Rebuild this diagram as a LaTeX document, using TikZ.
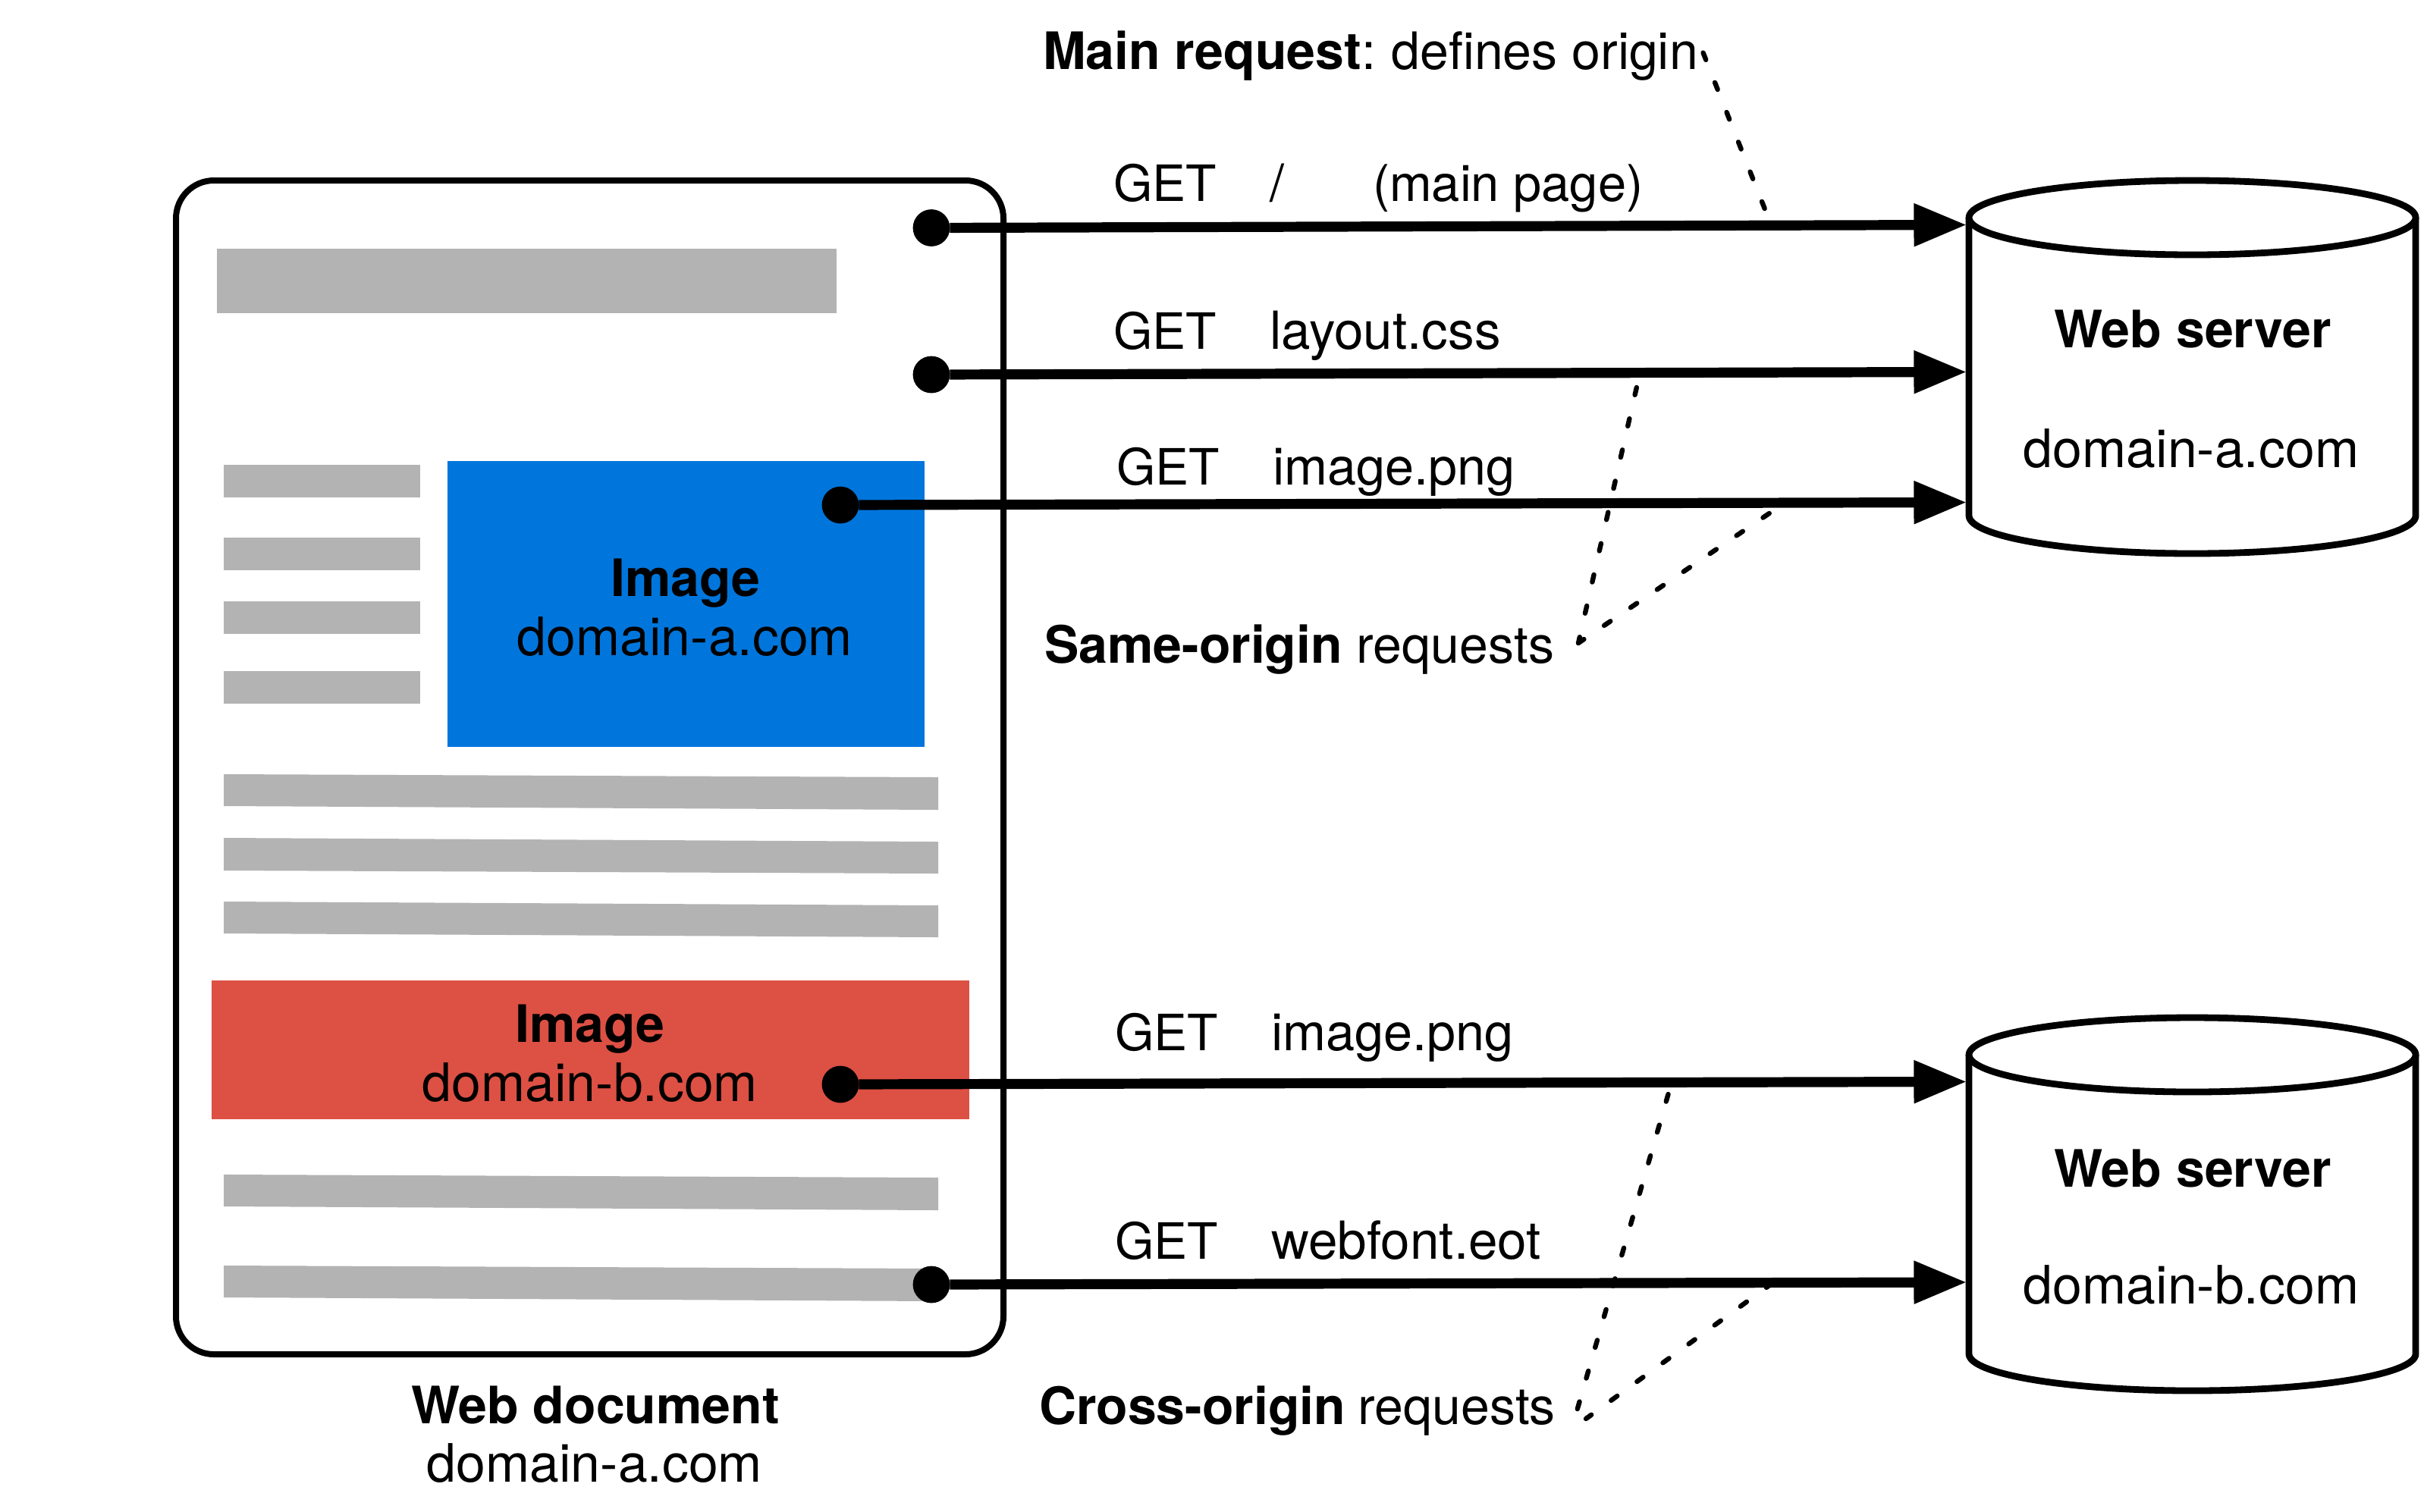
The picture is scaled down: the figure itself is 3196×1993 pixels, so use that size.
\documentclass[tikz,border=0pt]{standalone}
\usepackage{fontspec}
\setmainfont{TeX Gyre Heros}
\usetikzlibrary{arrows.meta}
\definecolor{barfill}{RGB}{179,179,179}
\definecolor{imgblue}{RGB}{0,118,220}
\definecolor{imgred}{RGB}{221,80,68}
\tikzset{
  lbl/.style={inner sep=0pt,outer sep=0pt,font=\fontsize{17}{20}\selectfont,text=black},
  lw/.style={lbl,anchor=base west},
  lc/.style={lbl,anchor=base},
  dom/.style={lc,font=\fontsize{17.45}{20}\selectfont},
  getlbl/.style={lw,font=\fontsize{16.5}{20}\selectfont},
  frameline/.style={draw=black,line width=2pt,rounded corners=12.5pt},
  bar/.style={fill=barfill},
  srv/.style={draw=black,line width=2.2pt,fill=white},
  dotnode/.style={circle,fill=black,inner sep=0pt,outer sep=0pt,minimum size=12.2pt},
  req/.style={line width=3.3pt,-{Triangle[length=17.4pt,width=13.4pt]}},
  note/.style={line width=1.6pt,line cap=round,dash pattern=on 2.5pt off 8.05pt},
}
\begin{document}
\begin{tikzpicture}[x=0.25pt,y=-0.25pt]
\useasboundingbox (0,0) rectangle (3196,1993);
\fill[white] (0,0) rectangle (3196,1993);
% document frame
\draw[frameline] (232,238) rectangle (1323,1786);
% grey bars
\fill[bar] (286,328) rectangle (1103,413);
\fill[bar] (295,613) rectangle (554,656);
\fill[bar] (295,709) rectangle (554,752);
\fill[bar] (295,793) rectangle (554,836);
\fill[bar] (295,885) rectangle (554,928);
\fill[bar] (295,1021) -- (1237,1025) -- (1237,1068) -- (295,1063) -- cycle;
\fill[bar] (295,1105) -- (1237,1110) -- (1237,1152) -- (295,1148) -- cycle;
\fill[bar] (295,1189) -- (1237,1194) -- (1237,1236) -- (295,1231) -- cycle;
\fill[bar] (295,1549) -- (1237,1553) -- (1237,1596) -- (295,1591) -- cycle;
\fill[bar] (295,1669) -- (1237,1673) -- (1237,1716) -- (295,1711) -- cycle;
% image boxes
\fill[imgblue] (590,608) rectangle (1219,985);
\fill[imgred] (279,1293) rectangle (1278,1476);
% servers
\path[srv] (2596,287) -- (2596,680) .. controls (2596,707.6) and (2727.9,730) .. (2890.5,730) .. controls (3053.1,730) and (3185,707.6) .. (3185,680) -- (3185,287);
\draw[srv] (2890.5,287) ellipse [x radius=294.5,y radius=49];
\path[srv] (2596,1391) -- (2596,1785.5) .. controls (2596,1812.3) and (2727.9,1834) .. (2890.5,1834) .. controls (3053.1,1834) and (3185,1812.3) .. (3185,1785.5) -- (3185,1391);
\draw[srv] (2890.5,1391) ellipse [x radius=294.5,y radius=49];
% labels
\node[lc] (imgAa) at (904,786) {\textbf{Image}};
\node[dom] (imgAb) at (903,864) {domain-a.com};
\node[lc] (imgBa) at (778,1374) {\textbf{Image}};
\node[dom] (imgBb) at (778,1452) {domain-b.com};
\node[lc] (docA) at (785,1877) {\textbf{Web document}};
\node[dom] (docB) at (784,1954) {domain-a.com};
\node[lc] (srvAa) at (2891,458) {\textbf{Web server}};
\node[dom] (srvAb) at (2889,616) {domain-a.com};
\node[lc] (srvBa) at (2891,1565) {\textbf{Web server}};
\node[dom] (srvBb) at (2889,1719) {domain-b.com};
\node[lw] (mainreq) at (1375,91) {\textbf{Main request}:\hspace{-1.2pt} defines origin};
\node[lw] (same) at (1377,874) {\textbf{Same-origin} requests};
\node[lw] (cross) at (1370,1878) {\textbf{Cross-origin}\hspace{-0.6pt} requests};
\node[getlbl] (g1) at (1468,265) {GET};
\node[lw] (p1) at (1674,265) {/};
\node[lw,font=\fontsize{16.7}{20}\selectfont] (m1) at (1810,265) {(main page)};
\node[getlbl] (g2) at (1468,460) {GET};
\node[lw,font=\fontsize{17.3}{20}\selectfont] (p2) at (1674,460) {layout.css};
\node[getlbl] (g3) at (1472,639) {GET};
\node[lw,font=\fontsize{17.1}{20}\selectfont] (p3) at (1678,639) {image.png};
\node[getlbl] (g4) at (1470,1385) {GET};
\node[lw,font=\fontsize{17.1}{20}\selectfont] (p4) at (1676,1385) {image.png};
\node[getlbl] (g5) at (1470,1660) {GET};
\node[lw,font=\fontsize{17.3}{20}\selectfont] (p5) at (1676,1660) {webfont.eot};
% note lines
\coordinate (nm1) at (2245.5,69.5);
\coordinate (nm2) at (2327,276);
\coordinate (ns1) at (2157.8,511);
\coordinate (ns2) at (2332.7,677);
\coordinate (nsv) at (2081,848);
\coordinate (nc1) at (2199.5,1443);
\coordinate (nc2) at (2337,1692);
\coordinate (ncv1) at (2079.5,1859);
\coordinate (ncv2) at (2091,1871);
\draw[note] (nm1) -- (nm2);
\draw[note] (ns1) -- (nsv);
\draw[note] (ns2) -- (nsv);
\draw[note] (nc1) -- (ncv1);
\draw[note] (nc2) -- (ncv2);
% requests
\node[dotnode] (d1) at (1228,300.5) {};
\node[dotnode] (d2) at (1228,494) {};
\node[dotnode] (d3) at (1108,666) {};
\node[dotnode] (d4) at (1108,1430) {};
\node[dotnode] (d5) at (1228,1694) {};
\coordinate (t1) at (2593,296.5);
\coordinate (t2) at (2593,490.5);
\coordinate (t3) at (2593,662.5);
\coordinate (t4) at (2593,1426.5);
\coordinate (t5) at (2593,1691);
\draw[req] (d1) -- (t1);
\draw[req] (d2) -- (t2);
\draw[req] (d3) -- (t3);
\draw[req] (d4) -- (t4);
\draw[req] (d5) -- (t5);
\end{tikzpicture}
\end{document}
